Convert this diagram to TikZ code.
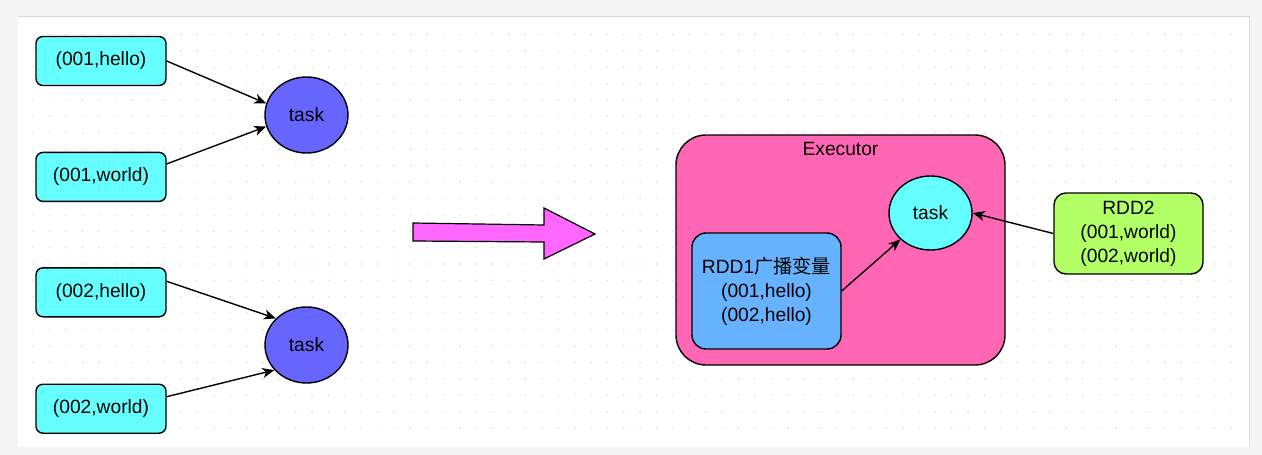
\documentclass[tikz,border=0pt]{standalone}
\usepackage{fontspec}
\setmainfont{Liberation Sans}
\newfontfamily\cjk{Noto Sans CJK SC}
\usetikzlibrary{arrows.meta, positioning, shapes.geometric}
\definecolor{pairfill}{HTML}{66FFFF}
\definecolor{taskfill}{HTML}{6666FF}
\definecolor{bigarrowfill}{HTML}{FF66FF}
\definecolor{execfill}{HTML}{FF66B3}
\definecolor{rddonefill}{HTML}{66B2FF}
\definecolor{rddtwofill}{HTML}{B3FF66}
\definecolor{pagegrey}{HTML}{F5F5F5}
\definecolor{dotgrey}{HTML}{D4D4D4}

\begin{document}
\begin{tikzpicture}[
  x=1pt, y=-1pt,
  >={Stealth[length=12pt, width=10pt, inset=3.5pt]}, line width=1.4pt,
  font=\fontsize{19.2}{24}\selectfont,
  node distance=65.5pt,
  pair/.style={draw, fill=pairfill, rounded corners=7pt, minimum width=130pt, minimum height=49pt, inner sep=0pt},
  task/.style={draw, ellipse, fill=taskfill, minimum width=83pt, minimum height=76pt, inner sep=0pt},
  exec/.style={draw, fill=execfill, rounded corners=30pt, minimum width=329pt, minimum height=230pt, inner sep=0pt},
  rdd/.style={draw, rounded corners=14pt, minimum width=149pt, inner sep=0pt, align=center}
]
  \useasboundingbox (0,0) rectangle (1262,455);

  % Arbeitsflaeche mit Punktraster
  \fill[pagegrey] (0,0) rectangle (1262,455);
  \fill[white] (18,16) rectangle (1249,447);
  \draw[line width=0.8pt, draw=black!15] (18,16) -- (1249,16) -- (1249,447);
  \foreach \i in {0,...,73}
    \foreach \j in {0,...,24}
      \fill[dotgrey] (33.3+\i*16.4, 34.4+\j*16.4) circle (0.8pt);

  % Links: vier Paare, zwei Tasks
  \node[pair] at (101,61) (p1) {(001,hello)};
  \node[pair, below=65.5pt of p1] (p2) {(001,world)};
  \node[pair, below=65pt of p2] (p3) {(002,hello)};
  \node[pair, below=66pt of p3] (p4) {(002,world)};
  \node[task] at (306.5,115) (t1) {task};
  \node[task] at (306.5,345) (t2) {task};

  \draw[->] (p1.east) -- (t1.164);
  \draw[->] ([yshift=13pt]p2.east) -- (t1.196);
  \draw[->] ([yshift=11pt]p3.east) -- (t2.139);
  \draw[->] ([yshift=12pt]p4.east) -- (t2.218);

  % Grosser Pfeil
  \draw[fill=bigarrowfill, line width=1.2pt]
    (413,223) -- (544,225) -- (544,208) -- (595,234) -- (544,259) -- (544,242) -- (413,241) -- cycle;

  % Executor mit Broadcast-Variable
  \node[exec] at (840.5,250) (ex) {};
  \node[anchor=north, inner sep=0pt] at ([yshift=-7pt]ex.north) (extitle) {Executor};
  \node[task, fill=pairfill, minimum height=74pt] at (930.5,213) (t3) {task};
  \node[rdd, fill=rddonefill, minimum height=116pt] at (766.5,291) (r1) {RDD1{\cjk 广播变量}\\(001,hello)\\(002,hello)};
  \node[rdd, fill=rddtwofill, rounded corners=12pt, minimum height=81pt] at (1128.5,233.5) (r2) {RDD2\\(001,world)\\(002,world)};

  \draw[->] (r1.east) -- (t3);
  \draw[->] (r2.west) -- (t3.east);

\end{tikzpicture}
\end{document}
